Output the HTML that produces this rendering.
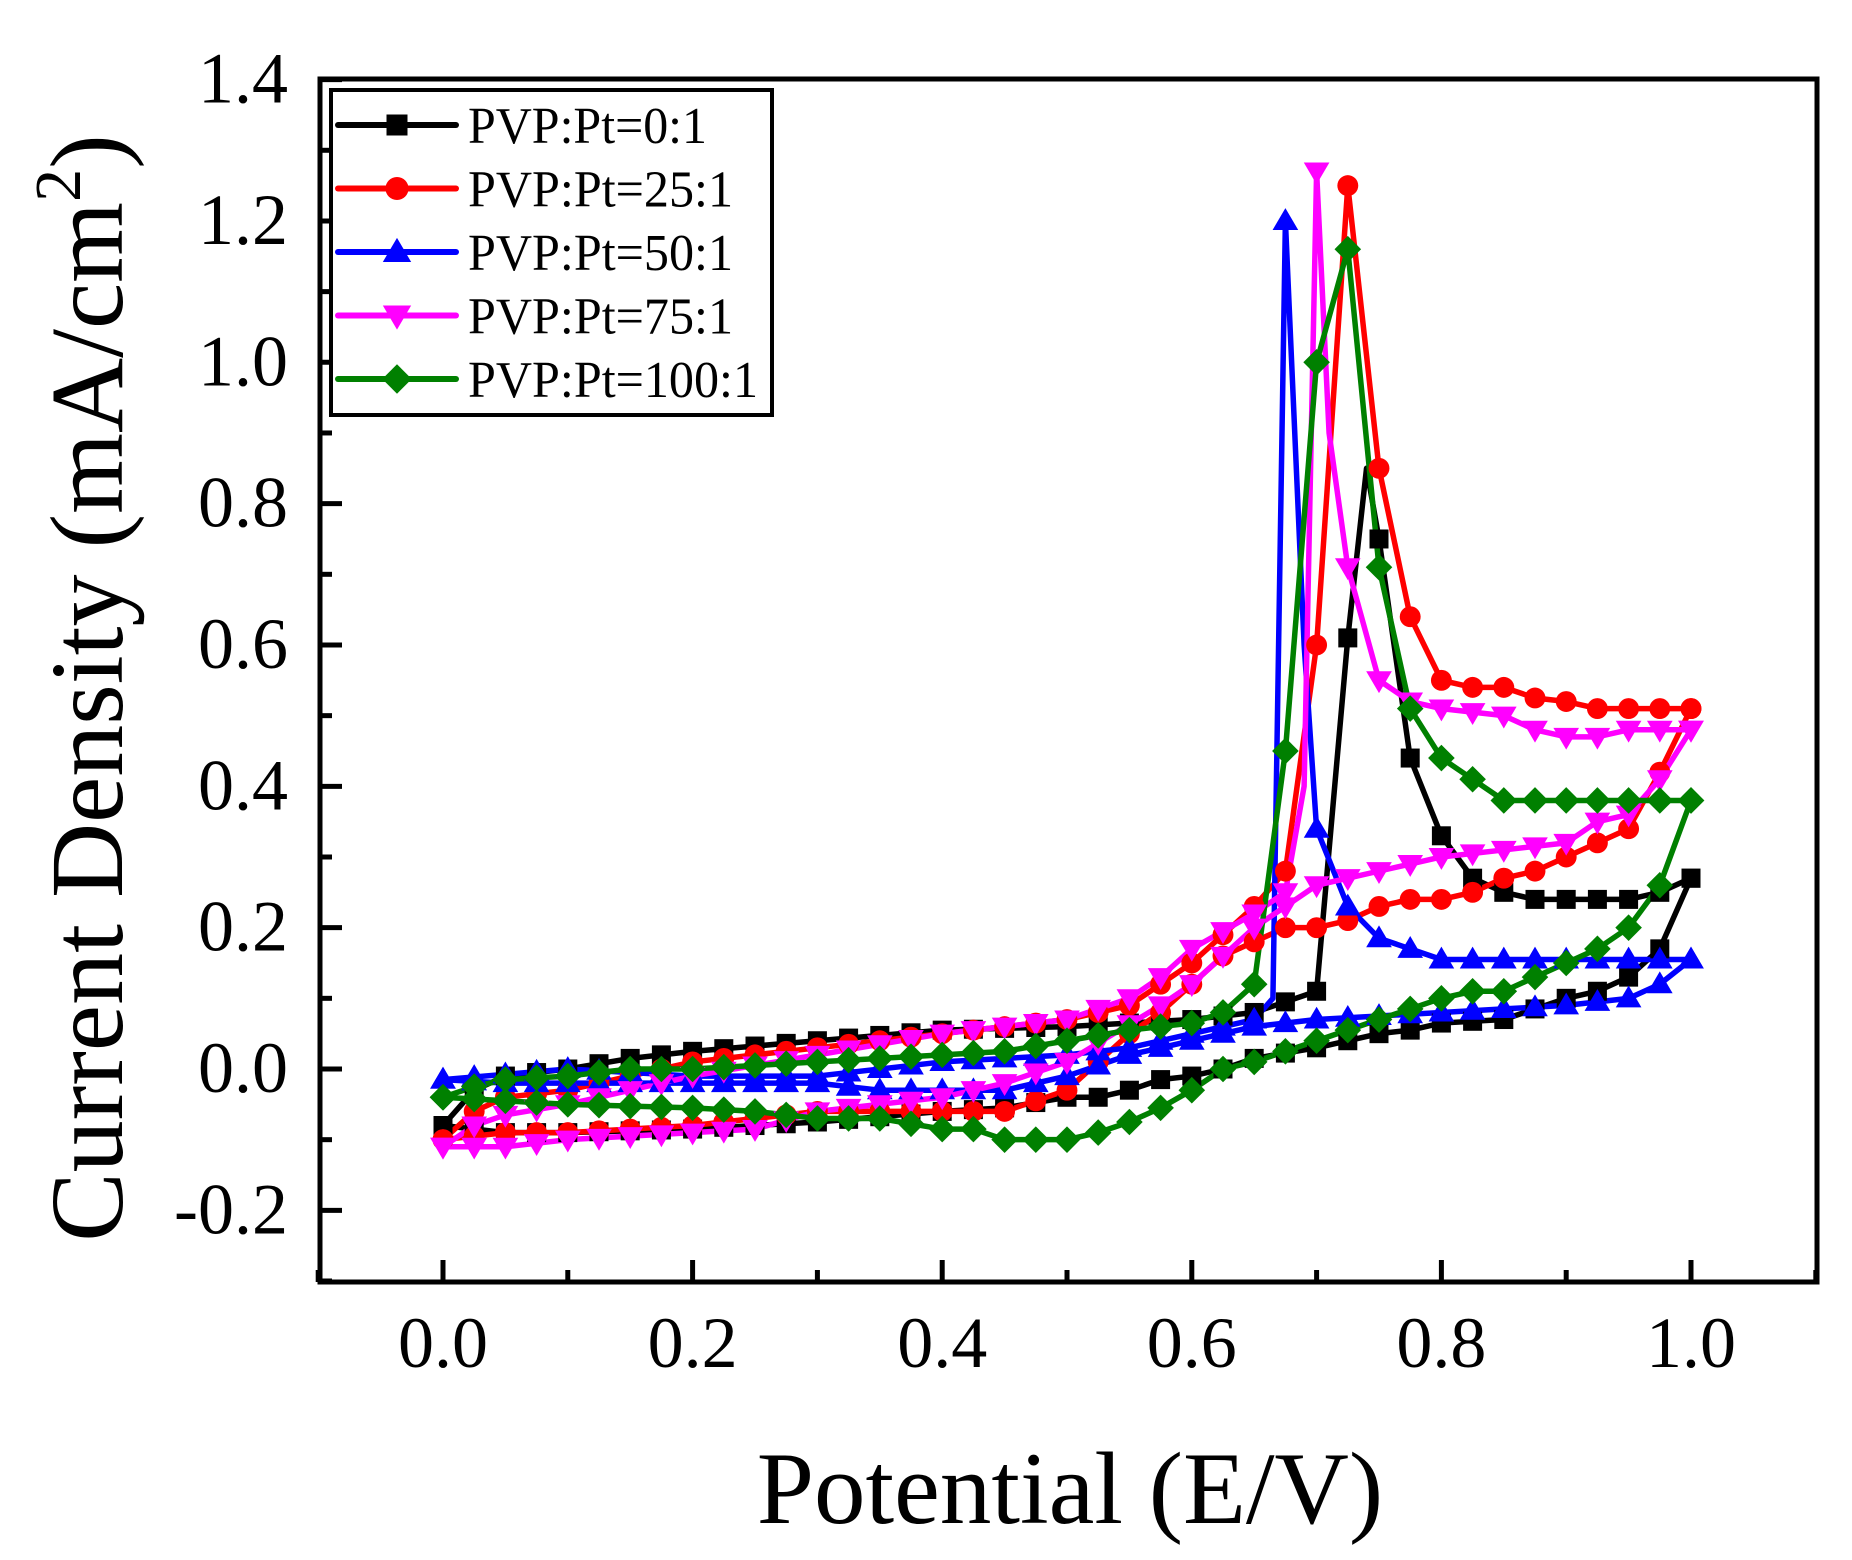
<!DOCTYPE html>
<html><head><meta charset="utf-8"><style>
html,body{margin:0;padding:0;background:#fff}
svg{display:block}
text{font-family:"Liberation Serif",serif;fill:#000}
</style></head><body>
<svg id="s" width="1852" height="1560" viewBox="0 0 1852 1560" xmlns="http://www.w3.org/2000/svg">
<g id="plot"></g>
<rect x="320" y="79" width="1497" height="1203" fill="none" stroke="#000" stroke-width="5"/>
<g id="ticks"></g>
<text x="1070" y="1523" font-size="103" text-anchor="middle">Potential (E/V)</text>
<text transform="translate(122,688) rotate(-90)" font-size="104" text-anchor="middle">Current Density (mA/cm<tspan font-size="66" dy="-42">2</tspan><tspan dy="42">)</tspan></text>
<rect x="331" y="90" width="441" height="325" fill="#fff" stroke="#000" stroke-width="4"/>
<g id="leg"></g>
</svg>
<script>
var NS="http://www.w3.org/2000/svg";
function X(v){return 443+(v)*1248;}
function Y(v){return 1069-v*706.7;}
function el(p,t,a){var e=document.createElementNS(NS,t);for(var k in a)e.setAttribute(k,a[k]);p.appendChild(e);return e;}
var ticks=document.getElementById('ticks');
for(var i=-1;i<=11;i++){var v=i/10,x=X(v);var maj=(i%2==0);
 el(ticks,'line',{x1:x,x2:x,y1:1282,y2:1282-(maj?22:12),stroke:'#000','stroke-width':5});
 if(maj&&i>=0&&i<=10){var t=el(ticks,'text',{x:x,y:1367,'font-size':72,'text-anchor':'middle'});t.textContent=(v).toFixed(1);}}
for(var i=-3;i<=14;i++){var v=i/10,y=Y(v);var maj=(i%2==0);
 el(ticks,'line',{x1:320,x2:320+(maj?22:12),y1:y,y2:y,stroke:'#000','stroke-width':5});
 if(maj){var t=el(ticks,'text',{x:288,y:y+23,'font-size':72,'text-anchor':'end'});t.textContent=(v).toFixed(1);}}
var series=[
{c:'#000',m:'sq',up:[[0,-0.08],[0.025,-0.03],[0.05,-0.01],[0.1,0],[0.15,0.015],[0.2,0.025],[0.3,0.04],[0.4,0.055],[0.5,0.06],[0.6,0.07],[0.65,0.08],[0.7,0.11],[0.725,0.61],[0.74,0.85],[0.75,0.75],[0.775,0.44],[0.8,0.33],[0.825,0.27],[0.85,0.25],[0.875,0.24],[0.95,0.24],[0.975,0.25],[1,0.27]],
 dn:[[0,-0.08],[0.05,-0.09],[0.1,-0.09],[0.2,-0.085],[0.3,-0.075],[0.4,-0.06],[0.45,-0.055],[0.5,-0.04],[0.525,-0.04],[0.55,-0.03],[0.575,-0.015],[0.6,-0.01],[0.625,0],[0.65,0.015],[0.7,0.03],[0.75,0.05],[0.775,0.055],[0.8,0.065],[0.85,0.07],[0.875,0.085],[0.9,0.1],[0.925,0.11],[0.95,0.13],[0.975,0.17],[1,0.27]]},
{c:'#ff0000',m:'ci',up:[[0,-0.1],[0.025,-0.06],[0.05,-0.04],[0.1,-0.03],[0.2,0.01],[0.3,0.03],[0.4,0.05],[0.5,0.07],[0.55,0.09],[0.6,0.15],[0.65,0.23],[0.675,0.28],[0.7,0.6],[0.725,1.25],[0.75,0.85],[0.775,0.64],[0.8,0.55],[0.825,0.54],[0.85,0.54],[0.875,0.525],[0.9,0.52],[0.925,0.51],[1,0.51]],
 dn:[[0,-0.1],[0.05,-0.09],[0.1,-0.09],[0.2,-0.08],[0.3,-0.06],[0.4,-0.06],[0.45,-0.06],[0.5,-0.03],[0.55,0.05],[0.575,0.08],[0.6,0.12],[0.625,0.16],[0.65,0.18],[0.675,0.2],[0.7,0.2],[0.725,0.21],[0.75,0.23],[0.775,0.24],[0.8,0.24],[0.825,0.25],[0.85,0.27],[0.875,0.28],[0.9,0.3],[0.925,0.32],[0.95,0.34],[0.975,0.42],[1,0.51]]},
{c:'#0000ff',m:'tu',up:[[0,-0.015],[0.1,0],[0.2,-0.01],[0.3,-0.01],[0.4,0.01],[0.5,0.02],[0.55,0.03],[0.6,0.05],[0.65,0.07],[0.665,0.1],[0.675,1.2],[0.69,0.6],[0.7,0.34],[0.725,0.23],[0.75,0.185],[0.775,0.17],[0.8,0.155],[1,0.155]],
 dn:[[0,-0.015],[0.05,-0.02],[0.3,-0.02],[0.35,-0.03],[0.45,-0.03],[0.5,-0.01],[0.55,0.02],[0.6,0.04],[0.65,0.06],[0.7,0.07],[0.75,0.075],[0.8,0.08],[0.85,0.085],[0.9,0.09],[0.95,0.1],[0.975,0.12],[1,0.155]]},
{c:'#ff00ff',m:'td',up:[[0,-0.11],[0.025,-0.08],[0.05,-0.065],[0.1,-0.05],[0.2,-0.01],[0.3,0.02],[0.4,0.05],[0.5,0.07],[0.55,0.1],[0.575,0.13],[0.6,0.17],[0.65,0.22],[0.675,0.25],[0.69,0.4],[0.7,1.27],[0.71,0.9],[0.725,0.71],[0.75,0.55],[0.775,0.52],[0.8,0.51],[0.85,0.5],[0.875,0.48],[0.9,0.47],[0.925,0.47],[0.95,0.48],[1,0.48]],
 dn:[[0,-0.11],[0.05,-0.11],[0.1,-0.1],[0.2,-0.09],[0.25,-0.085],[0.3,-0.06],[0.35,-0.05],[0.4,-0.04],[0.45,-0.02],[0.5,0.01],[0.575,0.09],[0.6,0.12],[0.65,0.2],[0.7,0.26],[0.725,0.27],[0.75,0.28],[0.8,0.3],[0.85,0.31],[0.9,0.32],[0.925,0.35],[0.95,0.36],[0.975,0.41],[1,0.48]]},
{c:'#008000',m:'di',up:[[0,-0.04],[0.025,-0.025],[0.05,-0.015],[0.1,-0.01],[0.15,0],[0.2,0],[0.3,0.01],[0.4,0.02],[0.45,0.025],[0.5,0.04],[0.55,0.055],[0.6,0.065],[0.625,0.08],[0.65,0.12],[0.675,0.45],[0.7,1.0],[0.725,1.16],[0.75,0.71],[0.775,0.51],[0.8,0.44],[0.825,0.41],[0.85,0.38],[1,0.38]],
 dn:[[0,-0.04],[0.05,-0.045],[0.1,-0.05],[0.2,-0.055],[0.25,-0.06],[0.3,-0.07],[0.35,-0.07],[0.4,-0.085],[0.425,-0.085],[0.45,-0.1],[0.5,-0.1],[0.525,-0.09],[0.55,-0.075],[0.575,-0.055],[0.6,-0.03],[0.625,0],[0.65,0.01],[0.675,0.025],[0.7,0.04],[0.725,0.055],[0.75,0.07],[0.775,0.085],[0.8,0.1],[0.825,0.11],[0.85,0.11],[0.875,0.13],[0.9,0.15],[0.925,0.17],[0.95,0.2],[0.975,0.26],[1,0.38]]}
];
function interp(k,x){for(var i=0;i<k.length-1;i++){if(x>=k[i][0]-1e-9&&x<=k[i+1][0]+1e-9){var t=(x-k[i][0])/(k[i+1][0]-k[i][0]);return k[i][1]+t*(k[i+1][1]-k[i][1]);}}return k[k.length-1][1];}
function marker(g,m,x,y,c,s){
 if(m=='sq')el(g,'rect',{x:x-s,y:y-s,width:2*s,height:2*s,fill:c});
 else if(m=='ci')el(g,'circle',{cx:x,cy:y,r:s*1.1,fill:c});
 else if(m=='tu')el(g,'polygon',{points:(x)+','+(y-s*1.35)+' '+(x-s*1.35)+','+(y+s*0.95)+' '+(x+s*1.35)+','+(y+s*0.95),fill:c});
 else if(m=='td')el(g,'polygon',{points:(x)+','+(y+s*1.35)+' '+(x-s*1.35)+','+(y-s*0.95)+' '+(x+s*1.35)+','+(y-s*0.95),fill:c});
 else el(g,'polygon',{points:x+','+(y-s*1.4)+' '+(x+s*1.4)+','+y+' '+x+','+(y+s*1.4)+' '+(x-s*1.4)+','+y,fill:c});}
var plot=document.getElementById('plot');
series.forEach(function(S){
 var pts=[];S.up.forEach(function(p){pts.push(X(p[0])+','+Y(p[1]));});
 for(var i=S.dn.length-1;i>=0;i--)pts.push(X(S.dn[i][0])+','+Y(S.dn[i][1]));
 el(plot,'polyline',{points:pts.join(' '),fill:'none',stroke:S.c,'stroke-width':5.5,'stroke-linejoin':'round'});
});
series.forEach(function(S){
 [S.up,S.dn].forEach(function(k){
  for(var i=0;i<=40;i++){var x=i*0.025;var y=interp(k,x);
   var pk=k.filter(function(p){return Math.abs(p[0]-x)<1e-6;});if(pk.length)y=pk[0][1];
   marker(plot,S.m,X(x),Y(y),S.c,9.5);}
 });
});
var leg=document.getElementById('leg');
var names=['PVP:Pt=0:1','PVP:Pt=25:1','PVP:Pt=50:1','PVP:Pt=75:1','PVP:Pt=100:1'];
var lens=[239,265,265,265,290];
series.forEach(function(S,i){var y=125+i*63.5;
 el(leg,'line',{x1:338,x2:456,y1:y,y2:y,stroke:S.c,'stroke-width':6,'stroke-linecap':'round'});
 marker(leg,S.m,397,y,S.c,10.5);
 var t=el(leg,'text',{x:468,y:y+18,'font-size':52,textLength:lens[i],lengthAdjust:'spacingAndGlyphs'});t.textContent=names[i];});
</script>
</body></html>
